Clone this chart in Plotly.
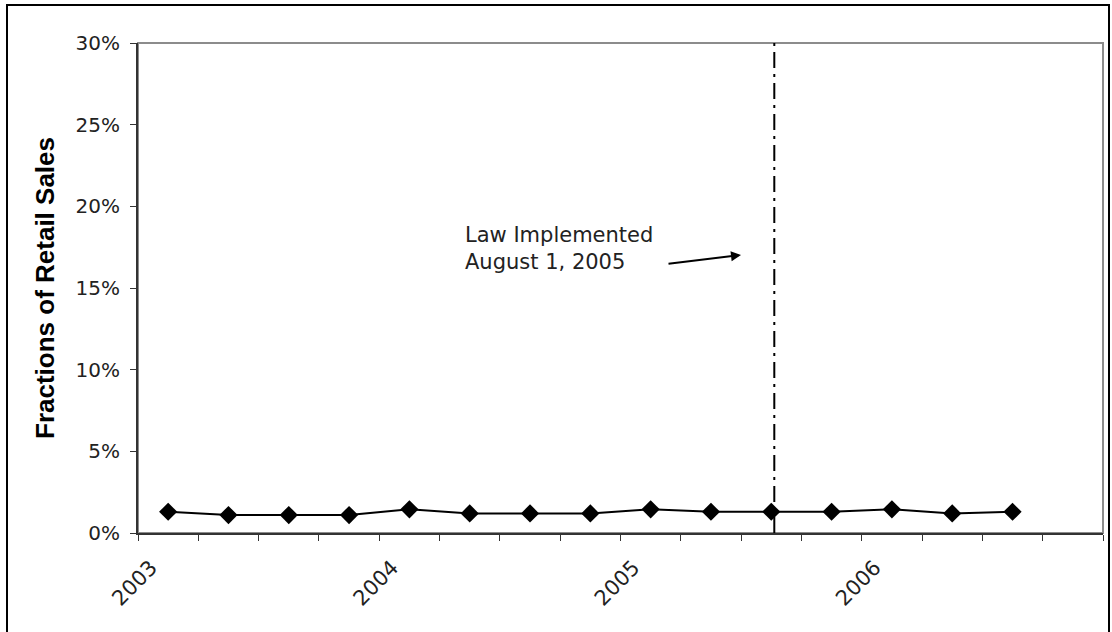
import plotly.graph_objects as go

# ---- data ----
quarters = ["2003Q1", "2003Q2", "2003Q3", "2003Q4",
            "2004Q1", "2004Q2", "2004Q3", "2004Q4",
            "2005Q1", "2005Q2", "2005Q3", "2005Q4",
            "2006Q1", "2006Q2", "2006Q3", "2006Q4"]
share = [0.013, 0.011, 0.011, 0.011,
         0.0145, 0.012, 0.012, 0.012,
         0.0145, 0.013, 0.013, 0.013,
         0.0145, 0.012, 0.013]
tick_labels = ["2003", "", "", "", "2004", "", "", "", "2005", "", "", "",
               "2006", "", "", ""]
law_position = 10.05  # category index (Aug 1, 2005 within 2005Q3)
law_text = "Law Implemented<br>August 1, 2005"

W, H = 1112, 632
L, R, T, B = 138, 9, 43, 99
pw, ph = W - L - R, H - T - B


def px(x):
    return (x - L) / pw


def py(y):
    return (H - B - y) / ph


fig = go.Figure()
fig.add_trace(go.Scatter(
    x=quarters[:len(share)], y=share, mode="lines+markers",
    line=dict(color="black", width=2),
    marker=dict(symbol="diamond", size=14, color="black"),
    showlegend=False, cliponaxis=False,
))

shapes = [
    # plot-area frame (grey, top/right visible)
    dict(type="rect", xref="paper", yref="paper", x0=0, x1=1, y0=0, y1=1,
         line=dict(color="#8c8c8c", width=2), layer="below"),
    # outer border
    dict(type="rect", xref="paper", yref="paper",
         x0=px(7), x1=px(1109), y0=py(636), y1=py(5),
         line=dict(color="black", width=2), layer="below"),
    # law line
    dict(type="line", xref="x", yref="paper", x0=law_position, x1=law_position,
         y0=0, y1=1, line=dict(color="black", width=2, dash="16px,6px,3px,6px")),
]

fig.update_layout(
    width=W, height=H,
    margin=dict(l=L, r=R, t=T, b=B, autoexpand=False),
    paper_bgcolor="white", plot_bgcolor="white",
    font=dict(family="DejaVu Sans", size=20, color="#222"),
    shapes=shapes,
    annotations=[
        dict(text=law_text, xref="paper", yref="paper", x=px(463), y=py(248),
             xanchor="left", yanchor="middle", align="left", showarrow=False,
             font=dict(size=21, color="#222")),
        dict(text="", xref="paper", yref="paper", x=px(741), y=py(255),
             ax=-74, ay=9, axref="pixel", ayref="pixel",
             showarrow=True, arrowhead=2, arrowsize=1, arrowwidth=2,
             arrowcolor="black"),
    ],
    xaxis=dict(
        type="category", categoryorder="array", categoryarray=quarters,
        range=[-0.5, len(quarters) - 0.5],
        tickmode="array", tickvals=quarters, ticktext=tick_labels,
        tickson="boundaries", ticks="outside", ticklen=6, tickwidth=1,
        tickcolor="#333", tickangle=-45,
        ticklabelshift=-17, ticklabelstandoff=12,
        tickfont=dict(size=21),
        showline=True, linecolor="#333", linewidth=2,
        showgrid=False, zeroline=False, fixedrange=True,
    ),
    yaxis=dict(
        range=[0, 0.30], dtick=0.05, tick0=0, tickformat=".0%",
        ticks="outside", ticklen=6, tickwidth=1, tickcolor="#333",
        ticklabelstandoff=6,
        showline=True, linecolor="#333", linewidth=2,
        showgrid=False, zeroline=False, fixedrange=True,
        title=dict(text="Fractions of Retail Sales", standoff=13,
                   font=dict(family="Liberation Sans", size=26, color="black",
                             weight="bold")),
    ),
)

fig.write_html("out.html",
               config={"displayModeBar": False},
               post_script="document.body.style.margin='0';")
